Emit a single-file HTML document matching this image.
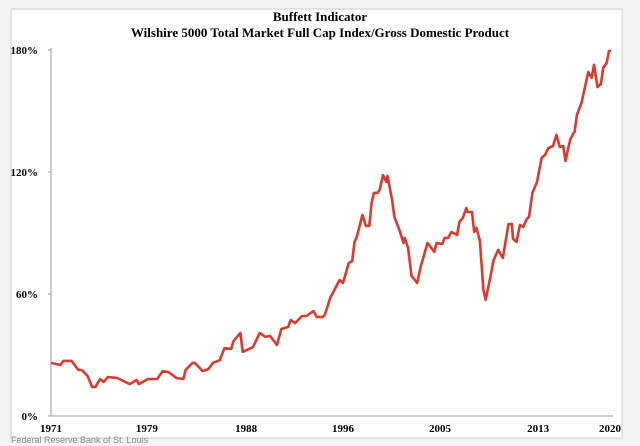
<!DOCTYPE html>
<html><head><meta charset="utf-8"><style>
html,body{margin:0;padding:0;width:640px;height:446px;background:#f3f3f3;overflow:hidden}
svg{display:block}
</style></head><body>
<svg width="640" height="446">
<rect x="11" y="9" width="611" height="429" fill="#fff" stroke="#cfcfcf"/>
<text x="320" y="21" text-anchor="middle" font-family="Liberation Serif, serif" font-weight="bold" font-size="13">Buffett Indicator</text>
<text x="320" y="37" text-anchor="middle" font-family="Liberation Serif, serif" font-weight="bold" font-size="13">Wilshire 5000 Total Market Full Cap Index/Gross Domestic Product</text>
<g id="axes"></g>
<g id="series"></g>
<text x="11" y="443" font-family="Liberation Sans, sans-serif" font-size="9" fill="#888">Federal Reserve Bank of St. Louis</text>
</svg>
<script>
const years=[1971.0,1971.8,1972.1,1972.8,1973.4,1973.7,1974.2,1974.6,1974.9,1975.3,1975.6,1976.0,1976.8,1977.9,1978.5,1978.7,1979.5,1980.3,1980.8,1981.3,1982.0,1982.6,1982.8,1983.4,1983.6,1984.3,1984.8,1985.2,1985.8,1986.2,1986.8,1987.0,1987.6,1987.8,1988.7,1989.3,1989.8,1990.2,1990.8,1991.2,1991.8,1992.0,1992.4,1993.0,1993.4,1994.0,1994.3,1994.8,1995.0,1995.5,1995.7,1996.3,1996.6,1997.1,1997.4,1997.6,1997.8,1998.3,1998.6,1998.9,1999.1,1999.3,1999.6,1999.8,2000.1,2000.4,2000.5,2000.9,2001.1,2001.6,2001.9,2002.0,2002.3,2002.6,2002.9,2003.1,2003.4,2004.0,2004.2,2004.6,2004.8,2005.3,2005.5,2005.8,2006.1,2006.6,2006.8,2007.1,2007.4,2007.5,2007.9,2008.1,2008.3,2008.6,2008.9,2009.1,2009.5,2009.8,2010.2,2010.6,2011.1,2011.4,2011.5,2011.8,2012.1,2012.4,2012.7,2012.9,2013.2,2013.6,2014.0,2014.3,2014.6,2015.0,2015.3,2015.6,2015.9,2016.1,2016.5,2016.8,2016.9,2017.1,2017.5,2018.1,2018.4,2018.6,2018.9,2019.2,2019.4,2019.7,2019.9,2020.1];
const ratios=[26.1,25.1,27.1,27.1,22.6,22.6,19.7,14.3,14.3,18.2,16.7,19.2,18.7,15.7,17.7,15.7,18.2,18.2,22.1,21.6,18.7,18.2,22.6,26.1,26.1,22.1,23.1,26.1,27.5,33.4,33.0,36.9,40.8,31.5,33.9,40.8,38.9,39.4,34.9,42.8,43.8,47.2,45.7,49.2,49.2,51.6,48.7,48.7,49.7,58.5,60.5,66.9,65.4,75.3,76.2,85.6,88.0,98.9,93.5,93.5,104.8,109.7,109.7,111.2,118.5,115.1,118.1,106.2,97.9,90.5,85.1,87.6,82.6,68.9,66.9,65.4,73.3,85.1,83.6,80.7,85.1,84.6,87.6,87.6,90.5,89.0,95.4,97.4,102.3,100.3,100.3,90.5,92.5,86.1,62.0,57.1,67.9,76.7,81.7,77.7,94.4,94.4,87.1,85.6,94.0,93.0,96.9,97.9,109.7,115.1,126.9,128.4,131.8,132.8,138.2,132.3,132.8,125.4,135.8,139.2,139.7,148.1,154.0,169.2,166.3,172.7,161.8,163.3,171.2,173.6,179.5,179.5];
const xTickPos=[1971,1979.4,1988.1,1996.6,2005.1,2013.7,2020];
const xTickLabels=["1971","1979","1988","1996","2005","2013","2020"];
const yTicks=[0,60,120,180];
const yTickLabels=["0%","60%","120%","180%"];

const NS="http://www.w3.org/2000/svg";
const X0=51,X1=610,Y0=416,Y1=50;
function xs(v){return X0+(v-1971)/(2020-1971)*(X1-X0);}
function ys(v){return Y0-(v/180)*(Y0-Y1);}
const axes=document.getElementById('axes');
function mk(t,a,p){const e=document.createElementNS(NS,t);for(const k in a)e.setAttribute(k,a[k]);p.appendChild(e);return e;}
const ya=mk('line',{x1:X0,y1:Y1-2,x2:X0,y2:Y0,stroke:'#999','stroke-width':1},axes);


const xa=mk('line',{x1:X0,y1:Y0,x2:613,y2:Y0,stroke:'#999','stroke-width':1},axes);


yTicks.forEach((v,i)=>{
  const tk=mk('line',{x1:X0-3,y1:ys(v),x2:X0,y2:ys(v),stroke:'#999'},axes);
  
  
  const t=mk('text',{x:38,y:ys(v)+4,'text-anchor':'end','font-family':'Liberation Serif, serif','font-weight':'bold','font-size':'11'},axes);
  t.textContent=yTickLabels[i];
  
  
});
xTickPos.forEach((v,i)=>{
  const t=mk('text',{x:xs(v),y:432,'text-anchor':'middle','font-family':'Liberation Serif, serif','font-weight':'bold','font-size':'11'},axes);
  t.textContent=xTickLabels[i];
  
  
});
const d=years.map((y,i)=>(i?'L':'M')+xs(y).toFixed(1)+','+ys(ratios[i]).toFixed(1)).join(' ');
const p=mk('path',{d:d,fill:'none',stroke:'#dd3a2e','stroke-width':2.6,'stroke-linejoin':'round'},document.getElementById('series'));


</script>
</body></html>
